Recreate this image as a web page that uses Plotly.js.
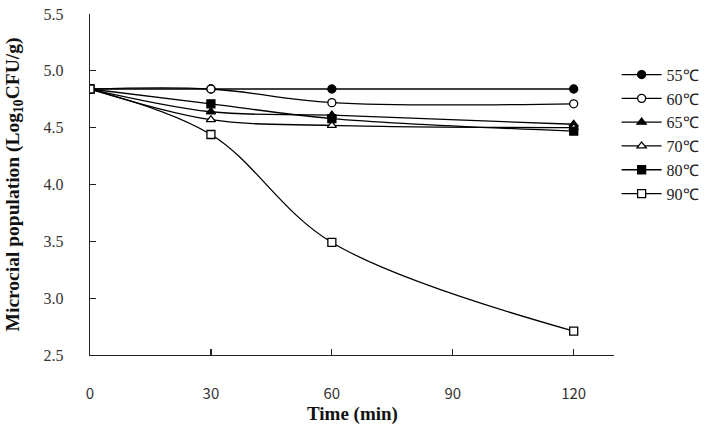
<!DOCTYPE html>
<html>
<head>
<meta charset="utf-8">
<script src="https://cdn.plot.ly/plotly-3.0.1.min.js"></script>
<style>html,body{margin:0;padding:0;background:#fff;}#chart{width:712px;height:426px;}</style>
</head>
<body>
<div id="chart"></div>
<script>
const times = [0, 30, 60, 120];
const seriesNames = ["55℃", "60℃", "65℃", "70℃", "80℃", "90℃"];
const s55 = [4.84, 4.84, 4.84, 4.84];
const s60 = [4.84, 4.84, 4.72, 4.71];
const s65 = [4.84, 4.64, 4.61, 4.53];
const s70 = [4.84, 4.57, 4.52, 4.50];
const s80 = [4.84, 4.71, 4.58, 4.47];
const s90 = [4.84, 4.44, 3.49, 2.71];
const xTicks = [0, 30, 60, 90, 120];
const yTicks = [2.5, 3.0, 3.5, 4.0, 4.5, 5.0, 5.5];
const xTitle = "Time (min)";
const yTitle = "Microcial population (Log<sub>10</sub>CFU/g)";

const values = [s55, s60, s65, s70, s80, s90];
const symbols = ["circle", "circle", "triangle-up", "triangle-up", "square", "square"];
const filled = [true, false, true, false, true, false];

const traces = values.map((v, i) => ({
  x: times, y: v, name: seriesNames[i], type: "scatter", mode: "lines+markers",
  line: {color: "#000", width: 1.3, shape: "spline", smoothing: 1},
  marker: {symbol: symbols[i], size: 8, color: filled[i] ? "#000" : "#fff",
           line: {color: "#000", width: 1.3}}
}));

const serif = "Liberation Serif, Times New Roman, serif";

const layout = {
  width: 712, height: 426,
  margin: {l: 90, r: 98, t: 14, b: 71, autoexpand: false},
  paper_bgcolor: "#fff", plot_bgcolor: "#fff",
  showlegend: true,
  legend: {x: 1.005, y: 0.872, xanchor: "left", yanchor: "top",
           font: {family: serif, size: 16, color: "#222"},
           itemwidth: 40, tracegroupgap: 0, bgcolor: "rgba(0,0,0,0)"},
  xaxis: {range: [0, 130], tickvals: xTicks, ticktext: xTicks.map(String),
          showgrid: false, zeroline: false, showline: true, linecolor: "#222", linewidth: 1.3,
          ticks: "inside", ticklen: 6, tickcolor: "#222", tickwidth: 1.2,
          ticklabelstandoff: 25,
          tickfont: {family: "Noto Sans CJK KR, Noto Sans, sans-serif", size: 15, color: "#333"}},
  yaxis: {range: [2.5, 5.5], tickvals: yTicks, ticktext: yTicks.map(v => v.toFixed(1)),
          showgrid: false, zeroline: false, showline: true, linecolor: "#222", linewidth: 1.3,
          ticks: "inside", ticklen: 6, tickcolor: "#222", tickwidth: 1.2,
          ticklabelstandoff: 22,
          tickfont: {family: serif, size: 16, color: "#333"},
          title: {text: yTitle, standoff: 18,
                  font: {family: serif, size: 19.5, color: "#111", weight: "bold"}}},
  annotations: [{
    text: xTitle, xref: "paper", yref: "paper", x: 0.5, y: -0.172,
    xanchor: "center", yanchor: "middle", showarrow: false,
    font: {family: serif, size: 19, color: "#111", weight: "bold"}
  }]
};

Plotly.newPlot("chart", traces, layout, {displayModeBar: false, staticPlot: true});
</script>
</body>
</html>
